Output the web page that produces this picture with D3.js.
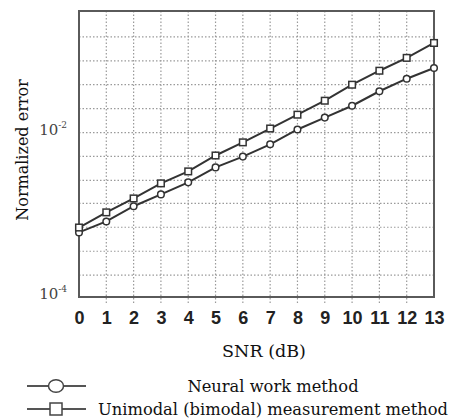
<!DOCTYPE html>
<html>
<head>
<meta charset="utf-8">
<script src="https://cdn.jsdelivr.net/npm/d3@7"></script>
<style>
body { margin: 0; background: #fff; }
svg { display: block; }
.serif { font-family: "DejaVu Serif", serif; }
.bold-sans { font-family: Arial, "Liberation Sans", sans-serif; font-weight: bold; }
</style>
</head>
<body>
<svg id="chart" width="459" height="419"></svg>
<script>
// SNR vs normalized error, log y axis

var snr = [0, 1, 2, 3, 4, 5, 6, 7, 8, 9, 10, 11, 12, 13];
var neuralErr = [6.1e-4, 8.3e-4, 1.27e-3, 1.77e-3, 2.48e-3, 3.77e-3, 5.1e-3, 7.2e-3, 1.09e-2, 1.52e-2, 2.12e-2, 3.18e-2, 4.52e-2, 6.1e-2];
var unimodalErr = [7.0e-4, 1.07e-3, 1.58e-3, 2.41e-3, 3.37e-3, 5.26e-3, 7.6e-3, 1.12e-2, 1.65e-2, 2.44e-2, 3.82e-2, 5.65e-2, 8.1e-2, 0.123];
var yGrid = [1.85e-4, 3.6e-4, 7.05e-4, 1.38e-3, 2.62e-3, 5.12e-3, 1e-2, 1.95e-2, 3.82e-2, 7.46e-2, 0.146];
var yLabels = [{v: 1e-2, exp: "-2"}, {v: 1e-4, exp: "-4"}];
var legendNames = ["Neural work method", "Unimodal (bimodal) measurement method"];

var svg = d3.select("#chart");
var plotLeft = 79, plotRight = 434, plotTop = 11, plotBottom = 297;

var x = d3.scaleLinear().domain([0, 13]).range([plotLeft, plotRight]);
var y = d3.scaleLog().domain([1e-4, 0.301]).range([plotBottom, plotTop]);

var gridColor = "#9a9a9a";
var lineColor = "#333";

// grid, vertical (run a bit below the axis like ticks)
svg.append("g").selectAll("line")
.data(snr.slice(1, 13))
.enter().append("line")
.attr("x1", function (d) { return x(d); })
.attr("x2", function (d) { return x(d); })
.attr("y1", plotTop)
.attr("y2", plotBottom + 6)
.style("stroke", gridColor)
.style("stroke-width", 1.2)
.style("stroke-dasharray", "1.5,2");

// grid, horizontal
svg.append("g").selectAll("line")
.data(yGrid)
.enter().append("line")
.attr("x1", plotLeft)
.attr("x2", plotRight)
.attr("y1", function (d) { return y(d); })
.attr("y2", function (d) { return y(d); })
.style("stroke", gridColor)
.style("stroke-width", 1.2)
.style("stroke-dasharray", "1.5,2");

// frame
svg.append("rect")
.attr("x", plotLeft)
.attr("y", plotTop)
.attr("width", plotRight - plotLeft)
.attr("height", plotBottom - plotTop)
.style("fill", "none")
.style("stroke", "#5a5a5a")
.style("stroke-width", 2);

// x tick labels
var xAxis = svg.append("g")
.attr("transform", "translate(0," + plotBottom + ")")
.call(d3.axisBottom(x).tickValues(snr).tickSize(0).tickPadding(14).tickFormat(d3.format("d")));
xAxis.select(".domain").remove();
xAxis.attr("font-family", null).attr("font-size", null);
xAxis.selectAll("text")
.attr("class", "bold-sans")
.style("font-size", "18px")
.attr("fill", "#222");

// y tick labels 10^-2, 10^-4
yLabels.forEach(function (t) {
	var txt = svg.append("text")
	.attr("class", "serif")
	.attr("x", 67)
	.attr("y", y(t.v) + 2)
	.attr("text-anchor", "end")
	.style("font-size", "15px")
	.attr("fill", "#444");
	txt.append("tspan").text("10");
	txt.append("tspan").text(t.exp)
	.style("font-size", "9px")
	.attr("dy", -7);
});

// axis titles
svg.append("text")
.attr("class", "serif")
.text("Normalized error")
.attr("transform", "translate(28,150) rotate(-90)")
.attr("text-anchor", "middle")
.style("font-size", "16px")
.attr("fill", "#111");

svg.append("text")
.attr("class", "serif")
.text("SNR (dB)")
.attr("x", 264)
.attr("y", 357)
.attr("text-anchor", "middle")
.style("font-size", "17.5px")
.attr("fill", "#111");

// series lines
var line = d3.line()
.x(function (d) { return x(d[0]); })
.y(function (d) { return y(d[1]); });

var neuralPts = snr.map(function (s, i) { return [s, neuralErr[i]]; });
var unimodalPts = snr.map(function (s, i) { return [s, unimodalErr[i]]; });

[neuralPts, unimodalPts].forEach(function (pts) {
	svg.append("path")
	.datum(pts)
	.attr("d", line)
	.style("fill", "none")
	.style("stroke", lineColor)
	.style("stroke-width", 2);
});

// markers
svg.append("g").selectAll("circle")
.data(neuralPts)
.enter().append("circle")
.attr("cx", function (d) { return x(d[0]); })
.attr("cy", function (d) { return y(d[1]); })
.attr("r", 3.3)
.style("fill", "#fff")
.style("stroke", lineColor)
.style("stroke-width", 1.5);

svg.append("g").selectAll("rect")
.data(unimodalPts)
.enter().append("rect")
.attr("x", function (d) { return x(d[0]) - 3.3; })
.attr("y", function (d) { return y(d[1]) - 3.3; })
.attr("width", 6.6)
.attr("height", 6.6)
.style("fill", "#fff")
.style("stroke", lineColor)
.style("stroke-width", 1.5);

// legend
var legendY = [386, 409];
legendY.forEach(function (ly, i) {
	svg.append("line")
	.attr("x1", 27)
	.attr("x2", 86)
	.attr("y1", ly)
	.attr("y2", ly)
	.style("stroke", "#555")
	.style("stroke-width", 2);
	if (i === 0) {
		svg.append("ellipse")
		.attr("cx", 56)
		.attr("cy", ly)
		.attr("rx", 7.5)
		.attr("ry", 6.3)
		.style("fill", "#fff")
		.style("stroke", "#444")
		.style("stroke-width", 1.5);
	} else {
		svg.append("rect")
		.attr("x", 50)
		.attr("y", ly - 6)
		.attr("width", 12)
		.attr("height", 12)
		.style("fill", "#fff")
		.style("stroke", "#444")
		.style("stroke-width", 1.5);
	}
	svg.append("text")
	.attr("class", "serif")
	.text(legendNames[i])
	.attr("x", 273)
	.attr("y", ly + 6)
	.attr("text-anchor", "middle")
	.style("font-size", "16.3px")
	.attr("fill", "#111");
});
</script>
</body>
</html>
